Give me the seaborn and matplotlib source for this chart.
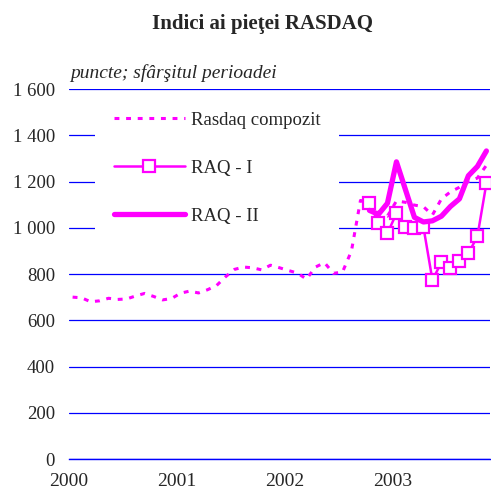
import numpy as np
import pandas as pd
import matplotlib
matplotlib.use("Agg")
import matplotlib.pyplot as plt
import matplotlib.ticker as mticker
import seaborn as sns

# ---------------------------------------------
# DATA (monthly, end of period)
# ---------------------------------------------
comp_values = [
    700, 697, 680, 684, 695, 690, 692, 705, 716, 703, 688, 694,      # 2000
    717, 726, 718, 732, 750, 788, 820, 830, 827, 818, 838, 827,      # 2001
    815, 804, 778, 830, 849, 803, 808, 900, 1118, 1110, 1065, 1050,  # 2002
    1116, 1110, 1098, 1091, 1055, 1125, 1155, 1175, 1200, 1215, 1270,  # 2003
]
raq1_values = [1106, 1022, 976, 1062, 1005, 1000, 1003, 774, 850, 824, 857, 889, 963, 1192]
raq2_values = [1075, 1058, 1106, 1285, 1165, 1045, 1025, 1030, 1050, 1092, 1125, 1225, 1265, 1332]
raq_start_month = 33  # Oct 2002, months counted from Jan 2000

year_ticks = [2000, 2001, 2002, 2003]
y_ticks = [0, 200, 400, 600, 800, 1000, 1200, 1400, 1600]

comp_df = pd.DataFrame({
    "t": 2000 + (np.arange(len(comp_values)) + 0.4) / 12,
    "v": comp_values,
})
raq_months = np.arange(raq_start_month, raq_start_month + len(raq1_values))
raq_df = pd.DataFrame({
    "t": 2000 + (raq_months + 0.4) / 12,
    "raq1": raq1_values,
    "raq2": raq2_values,
})

# ---------------------------------------------
# PLOT
# ---------------------------------------------
sns.set_style("white")
plt.rcParams['font.family'] = ['Liberation Serif', 'DejaVu Serif']

fig = plt.figure(figsize=(4.91, 4.94), dpi=100)
ax = fig.add_axes([69 / 491, 1 - 459 / 494, 421 / 491, 370 / 494])

magenta = '#ff00ff'
blue = '#0000ff'

sns.lineplot(data=comp_df, x="t", y="v", ax=ax, color=magenta, lw=2.2,
             linestyle=(0, (1.6, 2.2)), label="Rasdaq compozit")
sns.lineplot(data=raq_df, x="t", y="raq1", ax=ax, color=magenta, lw=1.8,
             marker='s', markersize=8, markerfacecolor='white',
             markeredgecolor=magenta, markeredgewidth=1.6, label="RAQ - I")
sns.lineplot(data=raq_df, x="t", y="raq2", ax=ax, color=magenta, lw=3.8,
             label="RAQ - II")

ax.set_xlim(2000, 2003.9)
ax.set_ylim(0, 1600)
ax.set_xticks(year_ticks)
ax.set_xticklabels([str(y) for y in year_ticks], fontsize=14)
ax.set_yticks(y_ticks)
ax.yaxis.set_major_formatter(mticker.FuncFormatter(
    lambda v, p: f"{int(v):,}".replace(",", " ")))
ax.tick_params(axis='y', length=0, labelsize=13.5, pad=10)
ax.tick_params(axis='x', direction='out', length=5, color=blue, width=1,
               labelsize=14, pad=5)

ax.yaxis.grid(True, color=blue, lw=0.9)
ax.set_axisbelow(True)
for s in ['left', 'right', 'top']:
    ax.spines[s].set_visible(False)
ax.spines['bottom'].set_color(blue)
ax.spines['bottom'].set_linewidth(1.0)
ax.set_xlabel('')
ax.set_ylabel('')

leg = ax.legend(loc='upper left', bbox_to_anchor=(0.062, 0.99), borderaxespad=0,
                frameon=True, fontsize=13.5, handlelength=3.8, handletextpad=0.3,
                labelspacing=1.65, borderpad=1.0, fancybox=False)
leg.get_frame().set_facecolor('white')
leg.get_frame().set_edgecolor('none')
leg.get_frame().set_alpha(1)

fig.text(262 / 491, 1 - 24 / 494, "Indici ai pieţei RASDAQ", ha='center', va='center',
         fontsize=15, fontweight='bold')
fig.text(70 / 491, 1 - 73 / 494, "puncte; sfârşitul perioadei", ha='left', va='center',
         fontsize=14, style='italic')

fig.savefig('out.png', dpi=100)
